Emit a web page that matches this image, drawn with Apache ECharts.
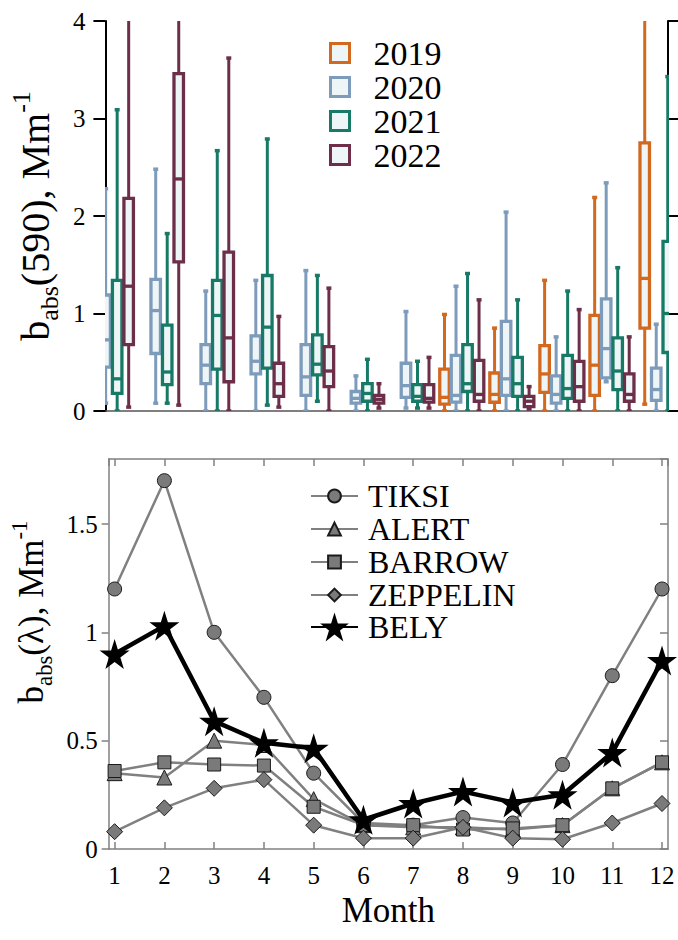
<!DOCTYPE html>
<html><head><meta charset="utf-8">
<script src="https://cdn.jsdelivr.net/npm/echarts@6/dist/echarts.min.js"></script>
<style>html,body{margin:0;padding:0;background:#fff}#c{width:678px;height:940px}</style>
</head><body><div id="c"></div>
<script>
// ---------- data ----------
const months = [1,2,3,4,5,6,7,8,9,10,11,12];
const years = ['2019','2020','2021','2022'];
// each entry: [min, Q1, median, Q3, max] for the month, null = no box
const box2019 = [null,null,null,null,null,null,null,
  [0.0,0.07,0.14,0.43,0.99],
  [0.0,0.09,0.17,0.39,0.85],
  [0.0,0.19,0.38,0.67,1.34],
  [0.0,0.16,0.47,0.98,2.19],
  [0.07,0.85,1.36,2.75,4.3]];
const box2020 = [
  [0.08,0.45,0.73,1.19,2.28],
  [0.08,0.59,1.03,1.35,2.48],
  [0.0,0.28,0.47,0.68,1.23],
  [0.0,0.38,0.51,0.77,1.34],
  [0.0,0.16,0.35,0.68,1.44],
  [0.0,0.08,0.13,0.20,0.36],
  [0.03,0.14,0.26,0.49,1.02],
  [0.0,0.09,0.16,0.57,1.28],
  [0.0,0.16,0.33,0.92,2.04],
  [0.0,0.08,0.17,0.36,0.76],
  [0.30,0.34,0.64,1.15,2.34],
  [0.0,0.11,0.22,0.44,0.89]];
const box2021 = [
  [0.0,0.18,0.33,1.34,3.09],
  [0.08,0.27,0.40,0.88,1.82],
  [0.0,0.43,0.98,1.34,2.67],
  [0.06,0.44,0.86,1.39,2.79],
  [0.10,0.37,0.48,0.78,1.39],
  [0.0,0.10,0.18,0.28,0.53],
  [0.03,0.10,0.15,0.27,0.51],
  [0.0,0.20,0.28,0.68,1.41],
  [0.0,0.15,0.28,0.55,1.14],
  [0.0,0.13,0.23,0.57,1.23],
  [0.0,0.22,0.41,0.75,1.47],
  [0.0,0.60,1.00,1.74,3.43]];
const box2022 = [
  [0.04,0.68,1.28,2.18,4.2],
  [0.06,1.53,2.38,3.46,4.4],
  [0.0,0.30,0.75,1.63,3.62],
  [0.04,0.15,0.28,0.49,0.97],
  [0.0,0.25,0.41,0.66,1.26],
  [0.03,0.08,0.12,0.16,0.28],
  [0.03,0.09,0.13,0.27,0.55],
  [0.0,0.10,0.17,0.52,1.14],
  [0.02,0.045,0.10,0.15,0.25],
  [0.0,0.10,0.25,0.51,1.04],
  [0.0,0.10,0.17,0.38,0.76],
  null];
const stations = ['TIKSI','ALERT','BARROW','ZEPPELIN','BELY'];
const tiksiVals    = [1.20,1.70,1.00,0.70,0.35,0.12,0.11,0.145,0.12,0.39,0.80,1.20];
const alertVals    = [0.35,0.33,0.50,0.48,0.23,0.11,0.10,0.10,0.09,0.11,0.28,0.40];
const barrowVals   = [0.36,0.40,0.39,0.385,0.195,0.11,0.11,0.09,0.095,0.11,0.28,0.40];
const zeppelinVals = [0.08,0.19,0.28,0.32,0.11,0.05,0.05,0.10,0.05,0.045,0.12,0.21];
const belyVals     = [0.90,1.03,0.59,0.49,0.465,0.135,0.21,0.265,0.215,0.25,0.445,0.87];

// ---------- styles ----------
const SERIF = 'Liberation Serif';
const BOX_COLORS = ['#d2691e','#7d9bba','#177a66','#6c2e48'];
const BOX_FILL = '#eef5f6';
const GRAY = '#808080';
const STAR = 'path://M0,-10 L2.245,-3.09 L9.511,-3.09 L3.633,1.18 L5.878,8.09 L0,3.82 L-5.878,8.09 L-3.633,1.18 L-9.511,-3.09 L-2.245,-3.09 Z';

function nameRich(s, gap) {
  return {
    gap: {width: gap, fontFamily: SERIF, fontSize: s},
    m: {fontFamily: SERIF, fontSize: s, lineHeight: Math.round(1.3 * s), color: '#000'},
    sub: {fontFamily: SERIF, fontSize: 0.65 * s, lineHeight: 0.65 * s, padding: [0.7 * s, 0, 0, 0], color: '#000'},
    sup: {fontFamily: SERIF, fontSize: 0.65 * s, lineHeight: 0.65 * s, padding: [0, 0, 0.7 * s, 0], color: '#000'}
  };
}

function boxSeries(name, arr, idx) {
  const data = [];
  months.forEach((m, i) => { if (arr[i]) data.push([m].concat(arr[i])); });
  const c = BOX_COLORS[idx];
  return {
    name: name, type: 'custom', xAxisIndex: 0, yAxisIndex: 0, clip: true,
    encode: {x: 0, y: [1,2,3,4,5]},
    itemStyle: {color: BOX_FILL, borderColor: c},
    data: data,
    renderItem: function (params, api) {
      const x = api.value(0);
      const band = api.size([1, 0])[0];
      const off = (idx - 1.5) * 0.23 * band;
      const p = [1,2,3,4,5].map(d => api.coord([x, api.value(d)]));
      const cx = p[0][0] + off;
      const w = 9.5;
      return {type: 'group', children: [
        {type: 'line', shape: {x1: cx, y1: p[4][1], x2: cx, y2: p[3][1]}, style: {stroke: c, lineWidth: 3}},
        {type: 'line', shape: {x1: cx, y1: p[1][1], x2: cx, y2: p[0][1]}, style: {stroke: c, lineWidth: 3}},
        {type: 'line', shape: {x1: cx - 2.5, y1: p[4][1], x2: cx + 2.5, y2: p[4][1]}, style: {stroke: c, lineWidth: 3.5}},
        {type: 'line', shape: {x1: cx - 2.5, y1: p[0][1], x2: cx + 2.5, y2: p[0][1]}, style: {stroke: c, lineWidth: 3.5}},
        {type: 'rect', shape: {x: cx - w / 2, y: p[3][1], width: w, height: p[1][1] - p[3][1]}, style: {fill: BOX_FILL, stroke: c, lineWidth: 3.3}},
        {type: 'line', shape: {x1: cx - w / 2, y1: p[2][1], x2: cx + w / 2, y2: p[2][1]}, style: {stroke: c, lineWidth: 3.3}}
      ]};
    }
  };
}

function lineSeries(name, arr, symbol, size, isBely) {
  return {
    name: name, type: 'line', xAxisIndex: 1, yAxisIndex: 2,
    data: months.map((m, i) => [m, arr[i]]),
    symbol: symbol, symbolSize: size,
    lineStyle: {color: isBely ? '#000' : GRAY, width: isBely ? 4.5 : 2.5},
    itemStyle: isBely ? {color: '#000', borderColor: '#000', borderWidth: 0}
                      : {color: '#7a7a7a', borderColor: '#1a1a1a', borderWidth: 1},
    z: isBely ? 5 : 3
  };
}

const option = {
  animation: false,
  textStyle: {fontFamily: SERIF},
  grid: [
    {left: 102, top: 21, width: 566, height: 390},
    {left: 102, top: 459, width: 566, height: 390}
  ],
  xAxis: [
    {gridIndex: 0, type: 'value', min: 0.88, max: 12.12, position: 'bottom',
     axisLine: {show: true, onZero: false, lineStyle: {color: '#555', width: 1.5}},
     axisTick: {show: false}, axisLabel: {show: false}, splitLine: {show: false}},
    {gridIndex: 1, type: 'value', min: 0.88, max: 12.12, splitNumber: 11, minInterval: 1, maxInterval: 1,
     position: 'bottom',
     axisLine: {show: true, onZero: false, lineStyle: {color: GRAY, width: 1.5}},
     axisTick: {show: true, inside: true, length: 7, lineStyle: {color: GRAY, width: 1.5}},
     axisLabel: {fontFamily: SERIF, fontSize: 25, color: '#000', margin: 14},
     splitLine: {show: false},
     name: 'Month', nameLocation: 'middle', nameGap: 44,
     nameTextStyle: {fontFamily: SERIF, fontSize: 35, color: '#000'}},
    {gridIndex: 1, type: 'value', min: 0.88, max: 12.12, splitNumber: 11, minInterval: 1, maxInterval: 1,
     position: 'top',
     axisLine: {show: true, onZero: false, lineStyle: {color: GRAY, width: 1.5}},
     axisTick: {show: true, inside: true, length: 7, lineStyle: {color: GRAY, width: 1.5}},
     axisLabel: {show: false}, splitLine: {show: false}}
  ],
  yAxis: [
    {gridIndex: 0, type: 'value', min: 0, max: 4, interval: 1, position: 'left',
     axisLine: {show: true, onZero: false, lineStyle: {color: '#000', width: 2}},
     axisTick: {show: true, inside: false, length: 12, lineStyle: {color: '#000', width: 2}},
     axisLabel: {fontFamily: SERIF, fontSize: 25, color: '#000', margin: 20},
     splitLine: {show: false},
     name: '{m|b}{sub|abs}{m|(590), Mm}{sup|-1}', nameLocation: 'middle', nameRotate: 90, nameGap: 35,
     nameTextStyle: {fontFamily: SERIF, rich: nameRich(40, 0)}},
    {gridIndex: 0, type: 'value', min: 0, max: 4, interval: 1, position: 'right',
     axisLine: {show: true, onZero: false, lineStyle: {color: '#000', width: 2}},
     axisTick: {show: true, inside: false, length: 10, lineStyle: {color: '#000', width: 2}},
     axisLabel: {show: false}, splitLine: {show: false}},
    {gridIndex: 1, type: 'value', min: 0, max: 1.8, interval: 0.5, position: 'left',
     axisLine: {show: true, onZero: false, lineStyle: {color: GRAY, width: 1.5}},
     axisTick: {show: true, inside: false, length: 7, lineStyle: {color: GRAY, width: 1.5}},
     axisLabel: {fontFamily: SERIF, fontSize: 25, color: '#000', margin: 11, showMaxLabel: false},
     splitLine: {show: false},
     name: '{gap|}{m|b}{sub|abs}{m|(λ), Mm}{sup|-1}', nameLocation: 'middle', nameRotate: 90, nameGap: 46,
     nameTextStyle: {fontFamily: SERIF, rich: nameRich(35, 84)}},
    {gridIndex: 1, type: 'value', min: 0, max: 1.8, interval: 0.5, position: 'right',
     axisLine: {show: true, onZero: false, lineStyle: {color: GRAY, width: 1.5}},
     axisTick: {show: true, inside: true, length: 8, lineStyle: {color: GRAY, width: 1.5}},
     axisLabel: {show: false}, splitLine: {show: false}}
  ],
  legend: [
    {orient: 'vertical', left: 329, top: 36, padding: 0, itemGap: 0, itemWidth: 19, itemHeight: 19,
     formatter: name => '{sp|}' + name,
     textStyle: {fontFamily: SERIF, fontSize: 34, color: '#000', rich: {sp: {width: 19}}},
     data: years.map((y, i) => ({name: y, icon: 'rect',
       itemStyle: {color: BOX_FILL, borderColor: BOX_COLORS[i], borderWidth: 3}}))},
    {orient: 'vertical', left: 310, top: 480, padding: 0, itemGap: 1, itemWidth: 47, itemHeight: 16,
     formatter: name => '{sp|}' + name,
     textStyle: {fontFamily: SERIF, fontSize: 32, color: '#000', rich: {sp: {width: 5}}},
     data: stations.slice(0, 4)},
    {orient: 'vertical', left: 310, top: 611, padding: 0, itemGap: 0, itemWidth: 47, itemHeight: 36,
     formatter: name => '{sp|}' + name,
     textStyle: {fontFamily: SERIF, fontSize: 32, color: '#000', rich: {sp: {width: 5}}},
     data: stations.slice(4)}
  ],
  series: [
    boxSeries(years[0], box2019, 0),
    boxSeries(years[1], box2020, 1),
    boxSeries(years[2], box2021, 2),
    boxSeries(years[3], box2022, 3),
    lineSeries(stations[0], tiksiVals, 'circle', 14, false),
    lineSeries(stations[1], alertVals, 'triangle', 15, false),
    lineSeries(stations[2], barrowVals, 'rect', 13, false),
    lineSeries(stations[3], zeppelinVals, 'diamond', 16, false),
    lineSeries(stations[4], belyVals, STAR, 30, true)
  ]
};

const chart = echarts.init(document.getElementById('c'), null, {renderer: 'svg'});
chart.setOption(option);
setTimeout(() => chart.setOption(option, true), 150);
</script>
</body></html>
